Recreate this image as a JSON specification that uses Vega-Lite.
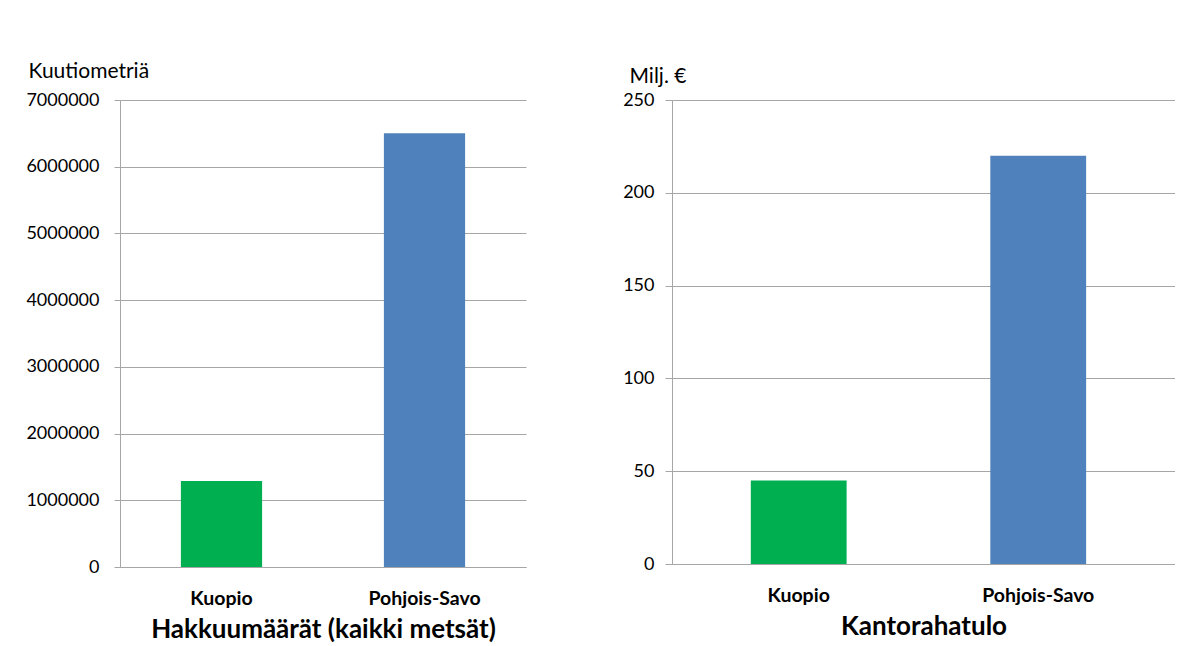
{
  "$schema": "https://vega.github.io/schema/vega-lite/v6.json",
  "background": "white",
  "padding": {"left": 25, "top": 60, "right": 0, "bottom": 0},
  "data": {"values": [
    {"alue": "Kuopio", "hakkuu": 1290000, "kantoraha": 45},
    {"alue": "Pohjois-Savo", "hakkuu": 6500000, "kantoraha": 220}
  ]},
  "config": {
    "font": "Lato",
    "view": {"stroke": null},
    "concat": {"spacing": 96},
    "axis": {
      "gridColor": "#a6a6a6", "domainColor": "#a6a6a6", "tickColor": "#a6a6a6",
      "labelColor": "#000000", "titleColor": "#000000", "labelFont": "Lato", "titleFont": "Lato"
    }
  },
  "hconcat": [
    {
      "width": 406, "height": 467,
      "mark": {"type": "bar"},
      "encoding": {
        "x": {"field": "alue", "type": "nominal", "sort": null,
          "scale": {"paddingInner": 0.6, "paddingOuter": 0.3},
          "axis": {"title": "Hakkuumäärät (kaikki metsät)", "labelAngle": 0, "labelFontWeight": "bold", "labelFontSize": 19.5,
            "ticks": false, "labelPadding": 22, "titleFontSize": 26, "titleFontWeight": "bold", "titlePadding": 9}},
        "y": {"field": "hakkuu", "type": "quantitative", "scale": {"domain": [0, 7000000]},
          "axis": {"title": "Kuutiometriä", "titleAngle": 0, "titleAlign": "left", "titleBaseline": "alphabetic",
            "titleX": -92, "titleY": -23, "titleFontSize": 21, "titleFontWeight": "normal",
            "format": "d", "values": [0, 1000000, 2000000, 3000000, 4000000, 5000000, 6000000, 7000000],
            "labelFontSize": 18, "labelPadding": 15, "tickSize": 6}},
        "color": {"field": "alue", "type": "nominal",
          "scale": {"domain": ["Kuopio", "Pohjois-Savo"], "range": ["#00B050", "#4F81BD"]}, "legend": null}
      }
    },
    {
      "width": 503, "height": 464,
      "mark": {"type": "bar"},
      "encoding": {
        "x": {"field": "alue", "type": "nominal", "sort": null,
          "scale": {"paddingInner": 0.6, "paddingOuter": 0.35, "align": 0.47},
          "axis": {"title": "Kantorahatulo", "labelAngle": 0, "labelFontWeight": "bold", "labelFontSize": 19.5,
            "ticks": false, "labelPadding": 22, "titleFontSize": 26, "titleFontWeight": "bold", "titlePadding": 9}},
        "y": {"field": "kantoraha", "type": "quantitative", "scale": {"domain": [0, 250]},
          "axis": {"title": "Milj. €", "titleAngle": 0, "titleAlign": "left", "titleBaseline": "alphabetic",
            "titleX": -43, "titleY": -18, "titleFontSize": 21, "titleFontWeight": "normal",
            "values": [0, 50, 100, 150, 200, 250],
            "labelFontSize": 18, "labelPadding": 11, "tickSize": 7}},
        "color": {"field": "alue", "type": "nominal",
          "scale": {"domain": ["Kuopio", "Pohjois-Savo"], "range": ["#00B050", "#4F81BD"]}, "legend": null}
      }
    }
  ]
}
